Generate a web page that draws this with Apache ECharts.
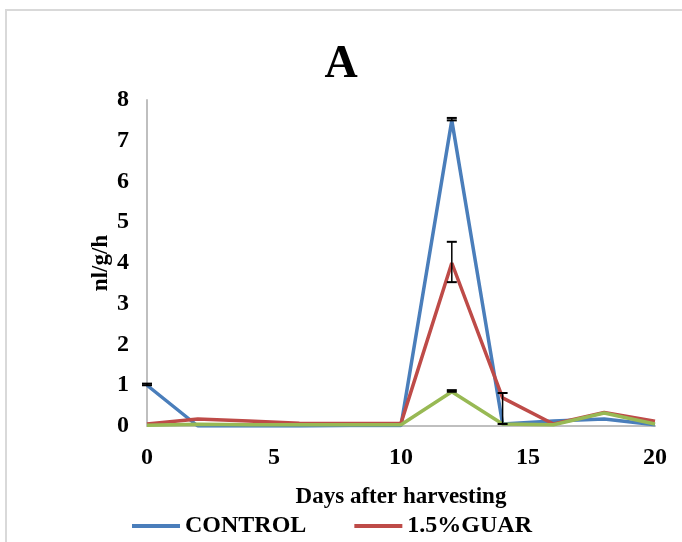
<!DOCTYPE html>
<html>
<head>
<meta charset="utf-8">
<script src="https://cdn.jsdelivr.net/npm/echarts@6/dist/echarts.min.js"></script>
<style>
  html, body { margin: 0; padding: 0; background: #fff; }
  #chart { width: 682px; height: 542px; }
</style>
</head>
<body>
<div id="chart"></div>
<script>
// days after harvesting
const days = [0, 2, 4, 6, 8, 10, 12, 14, 16, 18, 20];
const control = [1.0, 0.0, 0.0, 0.0, 0.01, 0.01, 7.5, 0.05, 0.12, 0.17, 0.03];
const guar = [0.05, 0.17, 0.12, 0.07, 0.06, 0.07, 4.0, 0.69, 0.05, 0.33, 0.12];
const third = [0.02, 0.04, 0.03, 0.03, 0.03, 0.03, 0.84, 0.05, 0.03, 0.32, 0.05];
// error bars: [day, low, high]
const errControl = [[0, 1.0, 1.04], [12, 7.5, 7.56]];
const errGuar = [[12, 3.53, 4.52], [14, 0.05, 0.81]];
const errThird = [[12, 0.84, 0.88]];

const font = '"Liberation Serif", "Times New Roman", serif';

function pairs(ys) {
    return days.map((d, i) => [d, ys[i]]);
}

function errSeries(data) {
    return {
        type: 'custom',
        silent: true,
        z: 5,
        data: data,
        renderItem: (params, api) => {
            const lo = api.coord([api.value(0), api.value(1)]);
            const hi = api.coord([api.value(0), api.value(2)]);
            const w = 5;
            return {
                type: 'group',
                children: [
                    { type: 'line', shape: { x1: hi[0], y1: hi[1], x2: lo[0], y2: lo[1] }, style: { stroke: '#000', lineWidth: 1.5 } },
                    { type: 'line', shape: { x1: hi[0] - w, y1: hi[1], x2: hi[0] + w, y2: hi[1] }, style: { stroke: '#000', lineWidth: 2 } },
                    { type: 'line', shape: { x1: lo[0] - w, y1: lo[1], x2: lo[0] + w, y2: lo[1] }, style: { stroke: '#000', lineWidth: 2 } }
                ]
            };
        }
    };
}

const chart = echarts.init(document.getElementById('chart'));
chart.setOption({
    animation: false,
    backgroundColor: '#fff',
    title: {
        text: 'A',
        left: 'center',
        top: 37,
        textStyle: { fontFamily: font, fontSize: 46, fontWeight: 'bold', color: '#000' }
    },
    graphic: [{
        type: 'rect',
        shape: { x: 6, y: 10, width: 700, height: 560 },
        style: { fill: null, stroke: '#d9d9d9', lineWidth: 2 },
        silent: true
    }],
    legend: {
        data: ['CONTROL', '1.5%GUAR'],
        top: 509,
        left: 127,
        itemGap: 48,
        itemWidth: 48,
        itemHeight: 4,
        icon: 'rect',
        textStyle: { fontFamily: font, fontSize: 24, fontWeight: 'bold', color: '#000' }
    },
    grid: { left: 147, top: 100, right: 27, bottom: 116 },
    xAxis: {
        type: 'value',
        min: 0, max: 20, interval: 5,
        name: 'Days after harvesting',
        nameLocation: 'middle',
        nameGap: 60,
        nameTextStyle: { fontFamily: font, fontSize: 23, fontWeight: 'bold', color: '#000' },
        axisLine: { lineStyle: { color: '#bfbfbf', width: 2 } },
        axisTick: { show: false },
        splitLine: { show: false },
        axisLabel: { fontFamily: font, fontSize: 24, fontWeight: 'bold', color: '#000', margin: 20 }
    },
    yAxis: {
        type: 'value',
        min: 0, max: 8, interval: 1,
        name: 'nl/g/h',
        nameLocation: 'middle',
        nameGap: 34,
        nameMoveOverlap: false,
        nameRotate: 90,
        nameTextStyle: { fontFamily: font, fontSize: 23, fontWeight: 'bold', color: '#000' },
        axisLine: { show: true, lineStyle: { color: '#bfbfbf', width: 2 } },
        axisTick: { show: false },
        splitLine: { show: false },
        axisLabel: { fontFamily: font, fontSize: 24, fontWeight: 'bold', color: '#000', margin: 18 }
    },
    series: [
        { name: 'CONTROL', type: 'line', data: pairs(control), symbol: 'none', lineStyle: { color: '#4a7ebb', width: 3.5 }, itemStyle: { color: '#4a7ebb' } },
        { name: '1.5%GUAR', type: 'line', data: pairs(guar), symbol: 'none', lineStyle: { color: '#be4b48', width: 3.5 }, itemStyle: { color: '#be4b48' } },
        { name: 'third', type: 'line', data: pairs(third), symbol: 'none', lineStyle: { color: '#98b954', width: 3.5 }, itemStyle: { color: '#98b954' } },
        errSeries(errControl),
        errSeries(errGuar),
        errSeries(errThird)
    ]
});
</script>
</body>
</html>
